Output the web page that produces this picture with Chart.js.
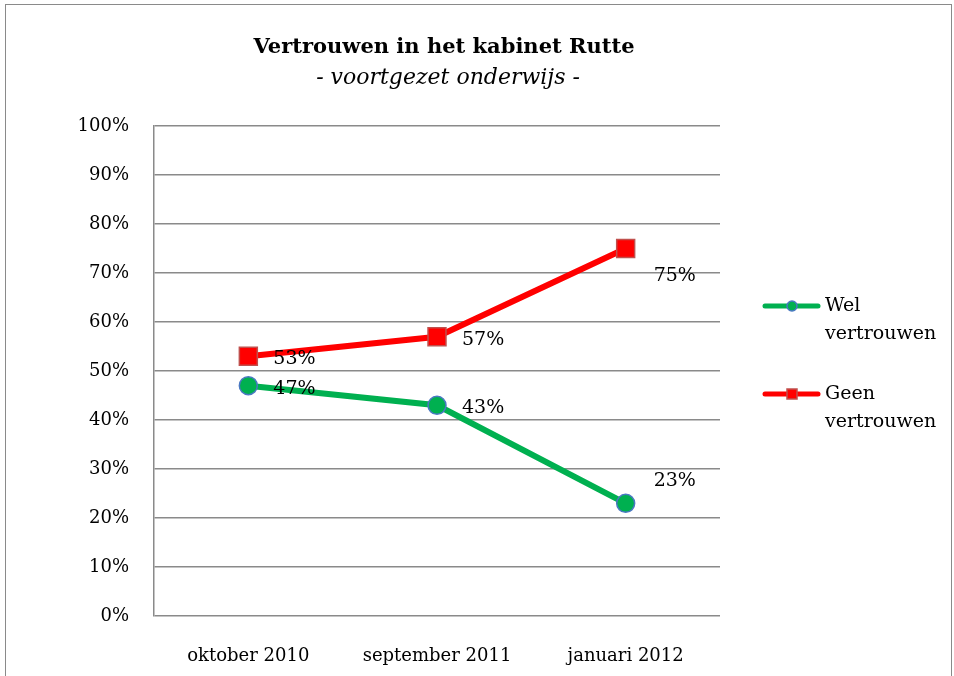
<!DOCTYPE html>
<html>
<head>
<meta charset="utf-8">
<script src="https://cdn.jsdelivr.net/npm/chart.js@4"></script>
<style>
  body { margin: 0; background: #fff; }
  canvas { display: block; }
</style>
</head>
<body>
<canvas id="chart" width="954" height="676"></canvas>
<script>
// data
const categories = ['oktober 2010', 'september 2011', 'januari 2012'];
const welVertrouwen = [47, 43, 23];
const geenVertrouwen = [53, 57, 75];
const seriesNames = [['Wel', 'vertrouwen'], ['Geen', 'vertrouwen']];
const titleText = 'Vertrouwen in het kabinet Rutte';
const subtitleText = '- voortgezet onderwijs -';

const FONT = "'DejaVu Serif', serif";
const GRID = '#8a8a8a';

// frame + titles
const framePlugin = {
  id: 'frame',
  beforeDraw(chart) {
    const ctx = chart.ctx;
    ctx.save();
    ctx.fillStyle = '#fff';
    ctx.fillRect(0, 0, chart.width, chart.height);
    ctx.strokeStyle = '#8a8a8a';
    ctx.lineWidth = 1;
    ctx.strokeRect(5.5, 4.5, 946, 700);
    ctx.restore();
  },
  afterDraw(chart) {
    const ctx = chart.ctx;
    ctx.save();
    ctx.fillStyle = '#000';
    ctx.textAlign = 'center';
    ctx.textBaseline = 'middle';
    ctx.font = 'bold 21px ' + FONT;
    ctx.fillText(titleText, 444, 48);
    ctx.font = 'italic 22px ' + FONT;
    ctx.fillText(subtitleText, 448, 78);
    ctx.restore();
  }
};

// data labels next to points
const labelPlugin = {
  id: 'pointLabels',
  afterDatasetsDraw(chart) {
    const ctx = chart.ctx;
    ctx.save();
    ctx.font = '19px ' + FONT;
    ctx.fillStyle = '#000';
    ctx.textAlign = 'left';
    ctx.textBaseline = 'middle';
    chart.data.datasets.forEach((ds, di) => {
      const meta = chart.getDatasetMeta(di);
      meta.data.forEach((pt, i) => {
        let dx = 25, dy = 3;
        if (i === ds.data.length - 1) {
          dx = 28;
          dy = di === 0 ? -22 : 28;
        }
        ctx.fillText(ds.data[i] + '%', pt.x + dx, pt.y + dy);
      });
    });
    ctx.restore();
  }
};

// legend on the right with two-line labels
const legendPlugin = {
  id: 'sideLegend',
  afterDraw(chart) {
    const ctx = chart.ctx;
    ctx.save();
    chart.data.datasets.forEach((ds, di) => {
      const y = 306 + di * 88;
      ctx.strokeStyle = ds.borderColor;
      ctx.lineWidth = 5;
      ctx.lineCap = 'round';
      ctx.beginPath();
      ctx.moveTo(765, y);
      ctx.lineTo(818, y);
      ctx.stroke();
      ctx.fillStyle = ds.pointBackgroundColor;
      ctx.strokeStyle = ds.pointBorderColor;
      ctx.lineWidth = 1.5;
      ctx.beginPath();
      if (ds.pointStyle === 'rect') {
        ctx.rect(787, y - 5, 10, 10);
      } else {
        ctx.arc(792, y, 5, 0, Math.PI * 2);
      }
      ctx.fill();
      ctx.stroke();
      ctx.fillStyle = '#000';
      ctx.font = '19px ' + FONT;
      ctx.textAlign = 'left';
      ctx.textBaseline = 'middle';
      seriesNames[di].forEach((line, li) => {
        ctx.fillText(line, 825, y + li * 28);
      });
    });
    ctx.restore();
  }
};

const ctx = document.getElementById('chart').getContext('2d');
new Chart(ctx, {
  type: 'line',
  data: {
    labels: categories,
    datasets: [{
      label: seriesNames[0].join(' '),
      data: welVertrouwen,
      borderColor: '#00b050',
      borderWidth: 6,
      pointStyle: 'circle',
      pointRadius: 9,
      pointBackgroundColor: '#00b050',
      pointBorderColor: '#4a78c2',
      pointBorderWidth: 1.5,
      tension: 0
    }, {
      label: seriesNames[1].join(' '),
      data: geenVertrouwen,
      borderColor: '#ff0000',
      borderWidth: 6,
      pointStyle: 'rect',
      pointRadius: 12.7,
      pointBackgroundColor: '#ff0000',
      pointBorderColor: '#c0504d',
      pointBorderWidth: 1.5,
      tension: 0
    }]
  },
  options: {
    responsive: false,
    animation: false,
    layout: { padding: { top: 126, right: 234, bottom: 0, left: 0 } },
    plugins: {
      legend: { display: false },
      title: { display: false },
      tooltip: { enabled: false }
    },
    scales: {
      x: {
        offset: true,
        grid: { display: false, drawTicks: false },
        border: { display: false },
        ticks: { color: '#000', font: { family: FONT, size: 18 }, padding: 30, maxRotation: 0 },
        afterFit(scale) { scale.height = 60; }
      },
      y: {
        min: 0,
        max: 100,
        ticks: {
          stepSize: 10,
          color: '#000',
          font: { family: FONT, size: 18 },
          padding: 25,
          callback: v => v + '%'
        },
        grid: { color: GRID, lineWidth: 1.5, drawTicks: false },
        border: { display: true, color: GRID, width: 1.5 },
        afterFit(scale) { scale.width = 154; }
      }
    }
  },
  plugins: [framePlugin, labelPlugin, legendPlugin]
});
</script>
</body>
</html>
